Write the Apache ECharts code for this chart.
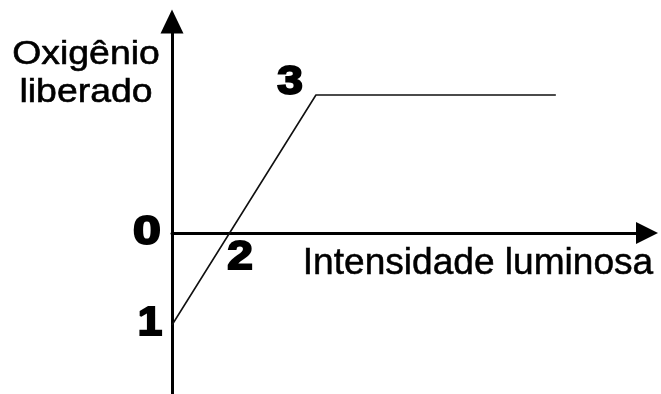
<!DOCTYPE html>
<html>
<head>
<meta charset="utf-8">
<script src="https://cdn.jsdelivr.net/npm/echarts@6/dist/echarts.min.js"></script>
<style>
html,body{margin:0;padding:0;background:#fff;}
#c{width:661px;height:394px;}
</style>
</head>
<body>
<div id="c"></div>
<script>
// Data (arbitrary units read from the schematic)
var xValues = [0, 6, 16];
var yValues = [-4, 6, 6];
var pointLabels = ['1', '2', '3'];
var zeroLabel = '0';
var yAxisName = ['Oxigênio', 'liberado'];
var xAxisName = 'Intensidade luminosa';

var seriesData = xValues.map(function (x, i) { return [x, yValues[i]]; });

var chart = echarts.init(document.getElementById('c'), null, {renderer: 'canvas'});
var font = '"Liberation Sans", Arial, sans-serif';
function txt(t, x, y, size, weight, sx, sw) {
  return {
    type: 'text', x: x, y: y, scaleX: sx, scaleY: 1, z: 100,
    style: { text: t, x: 0, y: 0, fill: '#000', font: weight + ' ' + size + 'px ' + font,
             align: 'center', verticalAlign: 'middle',
             stroke: '#000', lineWidth: sw }
  };
}
chart.setOption({
  animation: false,
  backgroundColor: '#fff',
  grid: { left: 172, right: 14, top: 21.4, bottom: 0, containLabel: false },
  xAxis: {
    type: 'value', min: 0, max: 19.8,
    axisLine: { onZero: true, symbol: ['none', 'triangle'], symbolSize: [22, 22],
                lineStyle: { color: '#000', width: 3 } },
    axisTick: { show: false }, axisLabel: { show: false }, splitLine: { show: false }
  },
  yAxis: {
    type: 'value', min: -7, max: 9.2,
    axisLine: { onZero: false, symbol: ['none', 'triangle'], symbolSize: [23, 24],
                lineStyle: { color: '#000', width: 3 } },
    axisTick: { show: false }, axisLabel: { show: false }, splitLine: { show: false }
  },
  series: [{
    type: 'line', data: seriesData, symbol: 'none',
    lineStyle: { color: '#111', width: 1.6 }
  }],
  graphic: [
    txt(yAxisName[0], 86, 55, 34, 'normal', 1.1, 0.6),
    txt(yAxisName[1], 86, 93, 34, 'normal', 1.1, 0.6),
    txt(xAxisName, 478, 264, 36, 'normal', 1.03, 0.5),
    txt(pointLabels[2], 290, 83, 40, 'bold', 1.15, 2),
    txt(zeroLabel, 147, 233, 40, 'bold', 1.25, 2),
    txt(pointLabels[1], 240, 258, 40, 'bold', 1.15, 2),
    txt(pointLabels[0], 150, 324, 40, 'bold', 1.1, 2)
  ]
});
</script>
</body>
</html>
